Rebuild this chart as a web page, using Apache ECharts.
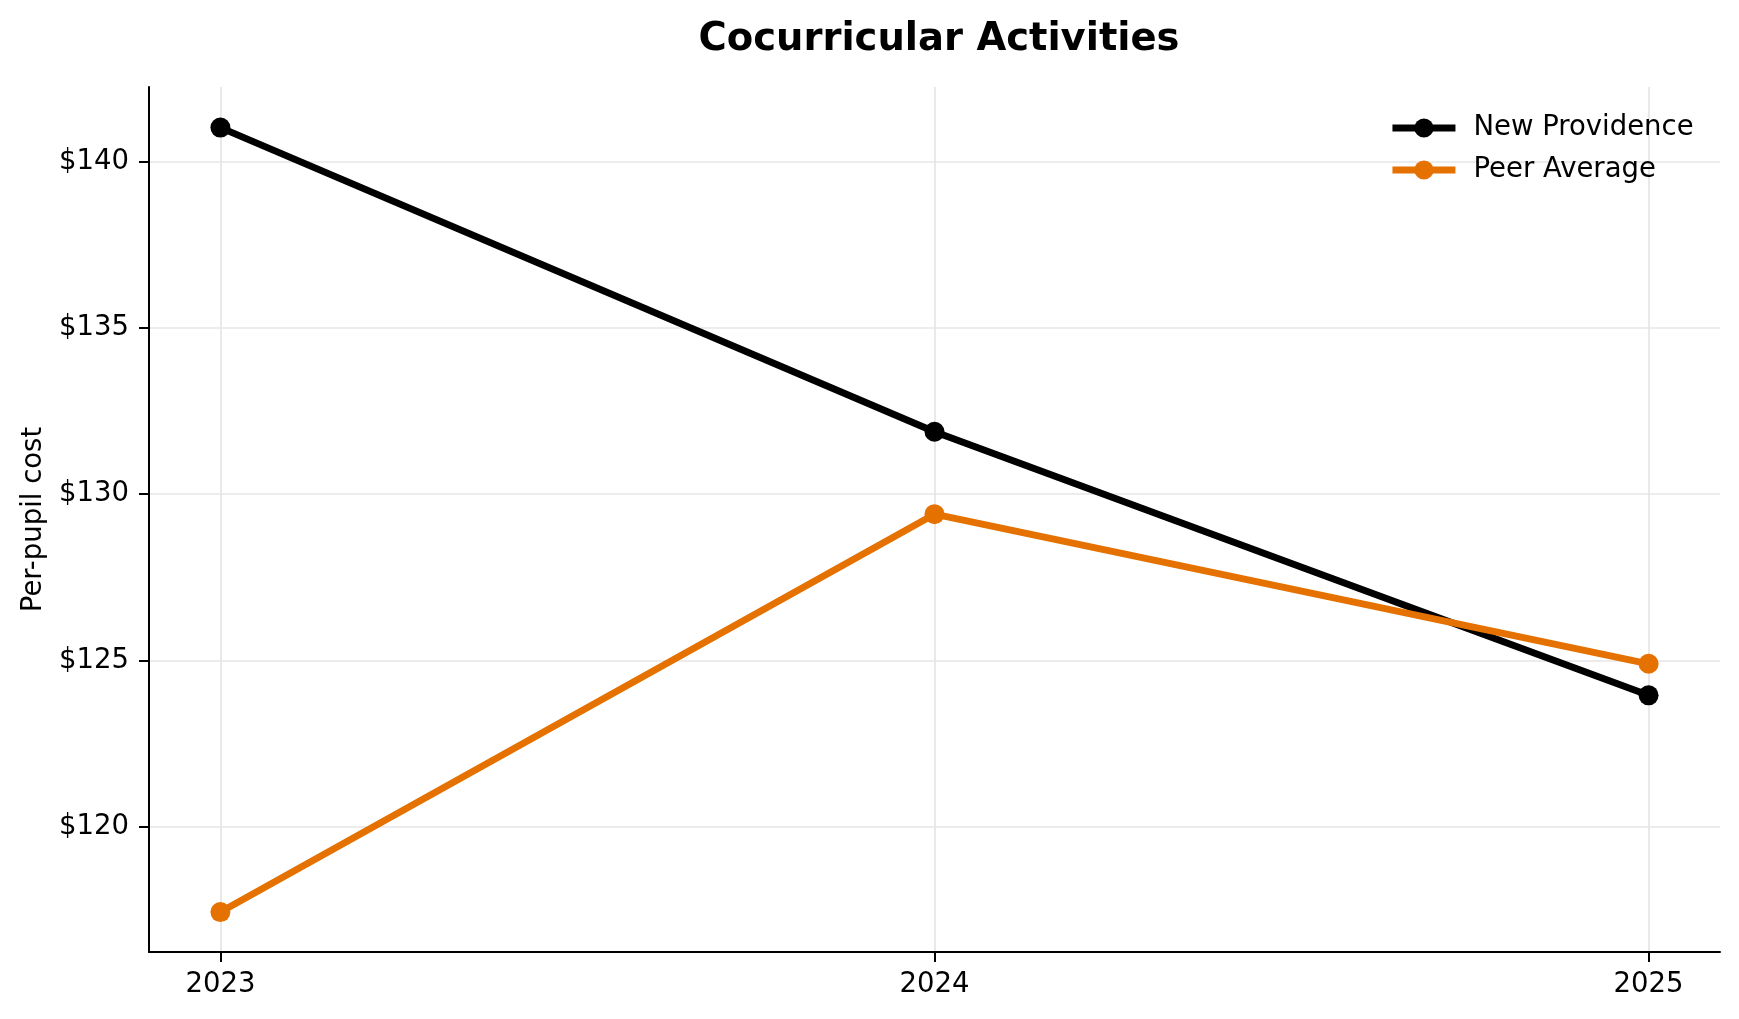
<!DOCTYPE html>
<html>
<head>
<meta charset="utf-8">
<title>Cocurricular Activities</title>
<script src="https://cdn.jsdelivr.net/npm/echarts@6/dist/echarts.min.js"></script>
<style>
  html, body { margin: 0; padding: 0; background: #fff; }
  #chart { width: 1739px; height: 1019px; }
</style>
</head>
<body>
<div id="chart"></div>
<script>
// values
const years = [2023, 2024, 2025]
const newProvidence = [141.03, 131.88, 123.95]
const peerAverage = [117.43, 129.40, 124.90]
const yTicks = [120, 125, 130, 135, 140]

const font = '"DejaVu Sans", Verdana, sans-serif'
const black = '#000000'
const orange = '#E57200'
const gridColor = '#e6e6e6'
const fs = 27.5

const toPairs = vals => years.map((y, i) => [y, vals[i]])

const chart = echarts.init(document.getElementById('chart'), null, { renderer: 'canvas' })

const option = {
  animation: false,
  backgroundColor: '#fff',
  textStyle: { fontFamily: font, color: black },

  // centred over the plot area, not the page
  title: {
    text: 'Cocurricular Activities',
    left: 934,
    textAlign: 'center',
    top: 15,
    textStyle: { fontFamily: font, fontSize: 38.5, fontWeight: 'bold', color: black }
  },

  legend: {
    orient: 'vertical',
    left: 1389,
    top: 114,
    padding: 0,
    itemWidth: 63,
    itemHeight: 24,
    itemGap: 14,
    lineStyle: { width: 6.9 },
    textStyle: { fontFamily: font, fontSize: fs, lineHeight: 28, color: black, padding: [0, 0, 0, 13] },
    data: ['New Providence', 'Peer Average']
  },

  grid: { left: 149, right: 19, top: 87, bottom: 67 },

  xAxis: {
    type: 'value',
    min: 2022.9,
    max: 2025.1,
    axisLine: { lineStyle: { color: black, width: 2 } },
    axisTick: { show: true, length: 10, lineStyle: { color: black, width: 2 }, customValues: years },
    axisLabel: {
      fontFamily: font, fontSize: fs, color: black, margin: 19,
      customValues: years,
      formatter: v => String(v)
    },
    splitLine: { show: true, lineStyle: { color: gridColor, width: 1.7 } }
  },

  yAxis: {
    type: 'value',
    min: 116.23,
    max: 142.25,
    name: 'Per-pupil cost',
    nameLocation: 'middle',
    nameRotate: 90,
    nameGap: 101,
    nameTextStyle: { fontFamily: font, fontSize: fs, color: black },
    axisLine: { show: true, lineStyle: { color: black, width: 2 } },
    axisTick: { show: true, length: 10, lineStyle: { color: black, width: 2 }, customValues: yTicks },
    axisLabel: {
      fontFamily: font, fontSize: fs, color: black, margin: 20,
      customValues: yTicks,
      formatter: v => '$' + v
    },
    splitLine: { show: true, lineStyle: { color: gridColor, width: 1.7 } }
  },

  series: [
    {
      name: 'New Providence',
      type: 'line',
      data: toPairs(newProvidence),
      symbol: 'circle',
      symbolSize: 20,
      showAllSymbol: true,
      lineStyle: { color: black, width: 6.9 },
      itemStyle: { color: black },
      z: 2
    },
    {
      name: 'Peer Average',
      type: 'line',
      data: toPairs(peerAverage),
      symbol: 'circle',
      symbolSize: 20,
      showAllSymbol: true,
      lineStyle: { color: orange, width: 6.9 },
      itemStyle: { color: orange },
      z: 3
    }
  ]
}

chart.setOption(option)
</script>
</body>
</html>
